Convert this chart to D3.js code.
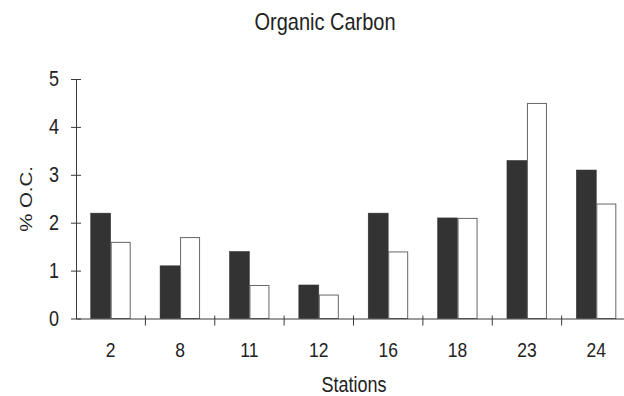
<!DOCTYPE html>
<html>
<head>
<meta charset="utf-8">
<script src="https://cdn.jsdelivr.net/npm/d3@7"></script>
<style>
  html, body { margin: 0; padding: 0; background: #fff; }
  text { font-family: "Liberation Sans", Arial, sans-serif; fill: #222; }
</style>
</head>
<body>
<svg id="chart" width="624" height="396"></svg>
<script>
const stations = ["2", "8", "11", "12", "16", "18", "23", "24"];
const seriesDark = [2.2, 1.1, 1.4, 0.7, 2.2, 2.1, 3.3, 3.1];
const seriesLight = [1.6, 1.7, 0.7, 0.5, 1.4, 2.1, 4.5, 2.4];
const yTicks = [0, 1, 2, 3, 4, 5];
const titleText = "Organic Carbon";
const xTitle = "Stations";
const yTitle = "% O.C.";

(function () {
const svg = d3.select("#chart");
const mLeft = 76, mRight = 631, mTop = 79, mBottom = 318.5;
const k = 1.2; // vertical stretch of the lettering

const x0 = d3.scaleBand().domain(stations).range([mLeft, mRight]).padding(0);
const x1 = d3.scaleBand().domain(["dark", "light"])
  .range([x0.bandwidth() / 2 - 20, x0.bandwidth() / 2 + 20]).padding(0);
const y = d3.scaleLinear().domain([0, 5]).range([mBottom, mTop]);

const rows = stations.map((s, i) => ({ s, dark: seriesDark[i], light: seriesLight[i] }));

// bars
const g = svg.append("g");
rows.forEach(r => {
  const gx = x0(r.s);
  g.append("rect")
    .attr("x", gx + x1("dark"))
    .attr("y", y(r.dark))
    .attr("width", x1.bandwidth())
    .attr("height", y(0) - y(r.dark))
    .attr("fill", "#333")
    .attr("stroke", "#333")
    .attr("stroke-width", 0.5);
  g.append("rect")
    .attr("x", gx + x1("light") + 0.5)
    .attr("y", y(r.light) + 0.5)
    .attr("width", x1.bandwidth() - 1)
    .attr("height", y(0) - y(r.light) - 0.5)
    .attr("fill", "#fff")
    .attr("stroke", "#666")
    .attr("stroke-width", 1);
});

// y axis
const yAxis = d3.axisLeft(y).tickValues(yTicks).tickFormat(d3.format("d"))
  .tickSize(0).tickPadding(17);
const ya = svg.append("g").attr("transform", `translate(${mLeft},0)`).call(yAxis);
ya.select(".domain").attr("stroke", "#3a3a3a");
ya.selectAll(".tick text").style("font-size", "18px").attr("fill", "#222")
  .attr("transform", `scale(1,${k})`);
ya.selectAll(".tick").append("line")
  .attr("x1", -5).attr("x2", 5).attr("stroke", "#3a3a3a");

// x axis
const xAxis = d3.axisBottom(x0).tickSize(0).tickPadding(19.5);
const xa = svg.append("g").attr("transform", `translate(0,${mBottom})`).call(xAxis);
xa.select(".domain").attr("stroke", "#3a3a3a").attr("stroke-width", 1.2);
xa.selectAll(".tick text").style("font-size", "17.5px").attr("fill", "#222")
  .attr("transform", `scale(1,${k})`);
const boundaries = stations.slice(1).map(s => x0(s));
xa.selectAll(".btick").data(boundaries).enter().append("line")
  .attr("x1", d => d).attr("x2", d => d)
  .attr("y1", -3).attr("y2", 7)
  .attr("stroke", "#3a3a3a");

// titles
svg.append("text").attr("transform", `translate(325,30) scale(1,${k})`)
  .attr("text-anchor", "middle").style("font-size", "20px").text(titleText);
svg.append("text").attr("transform", `translate(354,392) scale(1,${k})`)
  .attr("text-anchor", "middle").style("font-size", "18px").text(xTitle);
svg.append("text")
  .attr("transform", `translate(31.5,199) rotate(-90) scale(${k},1)`)
  .attr("text-anchor", "middle").style("font-size", "17px").text(yTitle);
})();
</script>
</body>
</html>
